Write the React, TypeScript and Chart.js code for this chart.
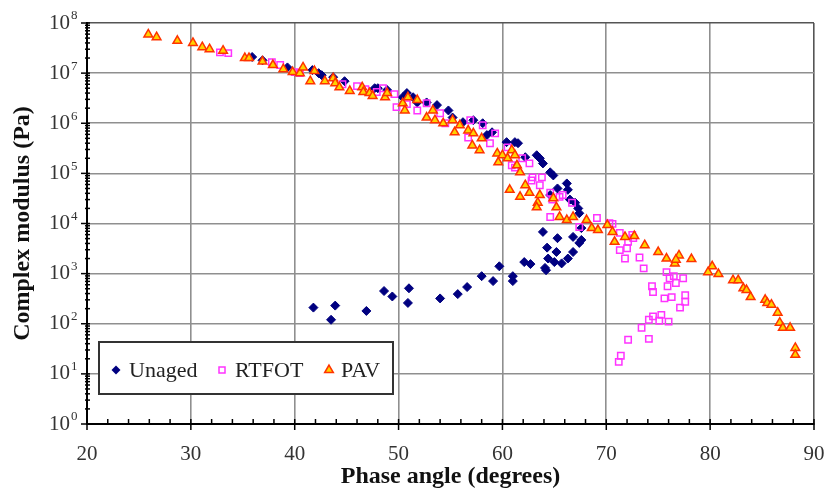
import React, { useEffect, useRef } from 'react';
import { Chart, registerables } from 'chart.js';

Chart.register(...registerables);

// ---- Data (phase angle in degrees, complex modulus in Pa) ----
const unagedPhase = [
  35.9, 36.9, 39.3, 41.7, 42.3, 42.6, 43.7, 44.8, 47.7, 48.0, 48.9, 50.4, 50.8, 51.4, 51.8, 52.7,
  53.7, 54.8, 55.2, 56.2, 57.2, 58.1, 58.5, 59.0, 60.4, 61.2, 61.5, 62.2, 63.3, 63.6, 63.9, 64.6,
  64.9, 65.3, 66.2, 66.3, 64.6, 66.5, 67.0, 67.3, 67.4, 67.6, 67.6, 67.4, 66.8, 63.9, 64.3, 65.2,
  65.3, 64.4, 66.3, 65.7, 65.0, 64.1, 64.2, 62.1, 62.7, 66.8, 54.0, 55.7, 56.6, 58.0, 59.1, 59.7,
  61.0, 61.0, 41.8, 43.5, 43.9, 46.9, 48.6, 49.4, 51.0, 50.9,
];
const unagedModulus = [
  2.1e7, 1.8e7, 1.3e7, 1.15e7, 1.0e7, 9.1e6, 8.3e6, 6.9e6, 5.0e6, 5.0e6, 4.6e6, 3.3e6, 4.0e6, 3.3e6, 2.6e6, 2.6e6,
  2.3e6, 1.8e6, 1.3e6, 1.05e6, 1.15e6, 1.0e6, 5.8e5, 6.6e5, 4.2e5, 4.2e5, 4.0e5, 2.1e5, 2.3e5, 2.0e5, 1.58e5, 1.05e5,
  9.1e4, 5.0e4, 6.3e4, 4.7e4, 3.7e4, 3.0e4, 2.6e4, 2.0e4, 1.6e4, 8.1e3, 4.7e3, 4.1e3, 5.4e3, 6.8e3, 3.3e3, 2.7e3,
  5.1e3, 2.0e3, 2.0e3, 1.6e3, 1.7e3, 1.3e3, 1.17e3, 1.7e3, 1.55e3, 2.7e3, 3.2e2, 3.9e2, 5.4e2, 8.9e2, 7.1e2, 1.4e3,
  8.9e2, 7.1e2, 2.1e2, 1.2e2, 2.3e2, 1.8e2, 4.5e2, 3.5e2, 5.1e2, 2.6e2,
];

const rtfotPhase = [
  32.8, 33.6, 37.8, 38.6, 40.0, 40.5, 44.6, 46.0, 46.8, 47.9, 48.5, 49.6, 49.8, 50.8, 51.8, 52.7,
  54.0, 54.5, 56.9, 58.1, 56.7, 58.8, 59.3, 60.5, 60.9, 61.2, 61.9, 62.6, 62.8, 63.6, 64.6, 65.5,
  62.9, 63.8, 64.8, 65.8, 66.7, 64.6, 67.4, 69.1, 70.3, 70.6, 71.3, 72.5, 72.1, 72.6, 71.3, 72.0,
  71.8, 73.2, 73.6, 75.8, 76.1, 76.5, 77.4, 75.9, 76.7, 74.4, 74.5, 75.6, 76.3, 77.6, 77.6, 77.1,
  75.3, 74.5, 74.1, 75.1, 76.0, 73.4, 72.1, 74.1, 71.4, 71.2,
];
const rtfotModulus = [
  2.6e7, 2.5e7, 1.66e7, 1.45e7, 1.05e7, 1.0e7, 6.0e6, 5.5e6, 4.8e6, 4.2e6, 5.0e6, 3.8e6, 2.1e6, 2.4e6, 1.8e6, 2.5e6,
  1.58e6, 1.0e6, 1.15e6, 9.1e5, 5.2e5, 4.0e5, 6.3e5, 3.3e5, 1.45e5, 1.3e5, 2.0e5, 1.58e5, 7.2e4, 5.8e4, 4.1e4, 3.4e4,
  8.3e4, 8.3e4, 3.0e4, 3.7e4, 2.6e4, 1.35e4, 8.5e3, 1.29e4, 1.02e4, 9.8e3, 6.5e3, 5.9e3, 4.3e3, 5.1e3, 2.95e3, 3.2e3,
  2.0e3, 2.1e3, 1.27e3, 1.07e3, 8.1e2, 8.9e2, 8.1e2, 5.6e2, 6.5e2, 5.6e2, 4.3e2, 3.2e2, 3.4e2, 3.7e2, 2.75e2, 2.1e2,
  1.5e2, 1.4e2, 1.2e2, 1.15e2, 1.1e2, 8.3e1, 4.8e1, 5.0e1, 2.3e1, 1.74e1,
];

const pavPhase = [
  25.9, 26.7, 28.7, 30.2, 31.1, 31.8, 33.1, 35.2, 35.6, 36.9, 37.9, 38.9, 39.8, 40.5, 40.8, 41.5,
  41.9, 42.9, 43.7, 43.9, 44.3, 45.3, 46.5, 46.6, 47.2, 47.5, 48.7, 48.9, 50.4, 50.6, 50.9, 51.8,
  52.7, 53.3, 53.5, 54.3, 55.2, 55.4, 55.9, 56.7, 57.2, 57.1, 57.8, 58.0, 59.5, 59.6, 60.0, 60.5,
  60.9, 61.2, 61.4, 61.7, 60.7, 61.7, 62.2, 62.6, 63.4, 63.6, 64.9, 65.2, 63.3, 65.5, 66.2, 66.8,
  68.1, 68.6, 69.2, 70.1, 70.6, 70.8, 71.8, 72.7, 73.7, 75.0, 75.8, 76.6, 77.0, 76.7, 78.2, 80.2,
  79.8, 80.8, 82.2, 82.7, 83.2, 83.5, 83.9, 85.3, 85.5, 85.9, 86.5, 86.7, 87.0, 87.7, 88.2, 88.2,
];
const pavModulus = [
  5.9e7, 5.2e7, 4.4e7, 4.0e7, 3.3e7, 3.0e7, 2.8e7, 2.0e7, 2.0e7, 1.7e7, 1.45e7, 1.2e7, 1.05e7, 1.0e7, 1.3e7, 6.9e6,
  1.1e7, 6.9e6, 7.9e6, 6.3e6, 5.2e6, 4.4e6, 5.2e6, 4.2e6, 4.0e6, 3.5e6, 3.3e6, 4.0e6, 2.5e6, 1.8e6, 3.3e6, 2.9e6,
  1.3e6, 1.8e6, 1.15e6, 1.0e6, 1.15e6, 6.6e5, 9.1e5, 7.2e5, 6.3e5, 3.6e5, 2.9e5, 5.0e5, 2.5e5, 1.66e5, 2.3e5, 2.0e5,
  2.9e5, 2.3e5, 1.45e5, 1.05e5, 4.7e4, 3.4e4, 5.8e4, 4.1e4, 2.6e4, 3.7e4, 3.2e4, 2.1e4, 2.1e4, 1.35e4, 1.17e4, 1.35e4,
  1.17e4, 8.1e3, 7.4e3, 9.3e3, 6.8e3, 4.3e3, 5.4e3, 5.6e3, 3.7e3, 2.7e3, 2.0e3, 1.6e3, 2.3e3, 1.9e3, 1.95e3, 1.4e3,
  1.07e3, 9.8e2, 7.4e2, 7.4e2, 5.1e2, 4.7e2, 3.4e2, 3.0e2, 2.6e2, 2.4e2, 1.66e2, 1.05e2, 8.3e1, 8.3e1, 3.3e1, 2.4e1,
];

const seriesNames = ['Unaged', 'RTFOT', 'PAV'];
const xTickValues = [20, 30, 40, 50, 60, 70, 80, 90];
const yDecadeValues = [1, 10, 100, 1e3, 1e4, 1e5, 1e6, 1e7, 1e8];
const yExponentLabels = ['0', '1', '2', '3', '4', '5', '6', '7', '8'];

const SERIF = '"Liberation Serif", "Times New Roman", serif';

const NAVY = '#000080';
const MAGENTA = '#FF33FF';
const PAV_FILL = '#FFD200';
const PAV_EDGE = '#FF3300';

function drawMarker(ctx: CanvasRenderingContext2D, kind: number, x: number, y: number) {
  ctx.save();
  ctx.beginPath();
  if (kind === 0) {
    const r = 4.5;
    ctx.moveTo(x, y - r);
    ctx.lineTo(x + r, y);
    ctx.lineTo(x, y + r);
    ctx.lineTo(x - r, y);
    ctx.closePath();
    ctx.fillStyle = NAVY;
    ctx.fill();
  } else if (kind === 1) {
    const s = 3;
    ctx.rect(x - s, y - s, 2 * s, 2 * s);
    ctx.strokeStyle = MAGENTA;
    ctx.lineWidth = 1.5;
    ctx.stroke();
  } else {
    const r = 5;
    ctx.moveTo(x, y - r);
    ctx.lineTo(x + r * 0.866, y + r * 0.5);
    ctx.lineTo(x - r * 0.866, y + r * 0.5);
    ctx.closePath();
    ctx.fillStyle = PAV_FILL;
    ctx.fill();
    ctx.strokeStyle = PAV_EDGE;
    ctx.lineWidth = 1.5;
    ctx.stroke();
  }
  ctx.restore();
}

const decorPlugin = {
  id: 'decor',
  afterDraw(chart: any) {
    const ctx: CanvasRenderingContext2D = chart.ctx;
    const xs = chart.scales.x;
    const ys = chart.scales.y;
    const area = chart.chartArea;
    ctx.save();
    // y minor & major ticks
    ctx.strokeStyle = '#000';
    ctx.lineWidth = 1.5;
    for (let d = 0; d < 8; d++) {
      for (let m = 2; m <= 9; m++) {
        const py = ys.getPixelForValue(m * Math.pow(10, d));
        ctx.beginPath();
        ctx.moveTo(area.left - 2, py);
        ctx.lineTo(area.left + 3, py);
        ctx.stroke();
      }
    }
    yDecadeValues.forEach((v) => {
      const py = ys.getPixelForValue(v);
      ctx.beginPath();
      ctx.moveTo(area.left - 6, py);
      ctx.lineTo(area.left + 3, py);
      ctx.stroke();
    });
    // x minor & major ticks
    for (let v = 22; v < 90; v += 2) {
      if (v % 10 === 0) continue;
      const px = xs.getPixelForValue(v);
      ctx.beginPath();
      ctx.moveTo(px, area.bottom - 5);
      ctx.lineTo(px, area.bottom);
      ctx.stroke();
    }
    xTickValues.forEach((v) => {
      const px = xs.getPixelForValue(v);
      ctx.beginPath();
      ctx.moveTo(px, area.bottom - 5);
      ctx.lineTo(px, area.bottom + 6);
      ctx.stroke();
    });
    // y tick labels 10^n
    ctx.fillStyle = '#333';
    yDecadeValues.forEach((v, i) => {
      const py = ys.getPixelForValue(v);
      ctx.font = `21px ${SERIF}`;
      ctx.textAlign = 'right';
      ctx.textBaseline = 'middle';
      ctx.fillText('10', 70, py);
      ctx.font = `13px ${SERIF}`;
      ctx.textAlign = 'left';
      ctx.fillText(yExponentLabels[i], 71, py - 7);
    });
    // legend box
    const bx = 99, by = 342, bw = 294, bh = 52;
    ctx.fillStyle = '#fff';
    ctx.fillRect(bx, by, bw, bh);
    ctx.strokeStyle = '#333';
    ctx.lineWidth = 2;
    ctx.strokeRect(bx, by, bw, bh);
    const markerX = [116, 222, 329];
    const textX = [129, 235, 341];
    ctx.font = `22px ${SERIF}`;
    ctx.textAlign = 'left';
    ctx.textBaseline = 'alphabetic';
    seriesNames.forEach((name, i) => {
      drawMarker(ctx, i, markerX[i], 370);
      ctx.fillStyle = '#222';
      ctx.fillText(name, textX[i], 377);
    });
    ctx.restore();
  },
};

function toPoints(xs: number[], ys: number[]) {
  return xs.map((x, i) => ({ x, y: ys[i] }));
}

export default function App() {
  const canvasRef = useRef<HTMLCanvasElement>(null);

  useEffect(() => {
    if (!canvasRef.current) return;
    const gridColor = (ctx: any, edge: number) =>
      ctx.tick && ctx.tick.value === edge ? '#555' : '#8f8f8f';
    const chart = new Chart(canvasRef.current, {
      type: 'scatter',
      data: {
        datasets: [
          {
            label: seriesNames[0],
            data: toPoints(unagedPhase, unagedModulus),
            pointStyle: 'rectRot',
            pointRadius: 4.5,
            backgroundColor: NAVY,
            borderColor: NAVY,
            borderWidth: 1,
            order: 3,
          },
          {
            label: seriesNames[1],
            data: toPoints(rtfotPhase, rtfotModulus),
            pointStyle: 'rect',
            pointRadius: 4.5,
            backgroundColor: 'rgba(255,255,255,0)',
            borderColor: MAGENTA,
            borderWidth: 1.5,
            order: 2,
          },
          {
            label: seriesNames[2],
            data: toPoints(pavPhase, pavModulus),
            pointStyle: 'triangle',
            pointRadius: 5,
            backgroundColor: PAV_FILL,
            borderColor: PAV_EDGE,
            borderWidth: 1.5,
            order: 1,
          },
        ],
      },
      options: {
        responsive: false,
        animation: false,
        devicePixelRatio: 1,
        layout: { padding: { left: 0, right: 10, top: 23, bottom: 0 } },
        plugins: { legend: { display: false }, tooltip: { enabled: false } },
        scales: {
          x: {
            type: 'linear',
            min: 20,
            max: 90,
            afterBuildTicks: (s: any) => {
              s.ticks = xTickValues.map((v) => ({ value: v }));
            },
            afterFit: (s: any) => {
              s.height = 67;
              s.paddingLeft = 0;
              s.paddingRight = 0;
            },
            grid: { color: (c: any) => gridColor(c, 90), lineWidth: 1.6, drawTicks: false },
            border: { display: true, color: '#000', width: 2 },
            ticks: { font: { family: SERIF, size: 21 }, color: '#333', padding: 18 },
            title: {
              display: true,
              text: 'Phase angle (degrees)',
              color: '#111',
              font: { family: SERIF, size: 24, weight: 'bold' },
              padding: { top: 0, bottom: 0 },
            },
          },
          y: {
            type: 'logarithmic',
            min: 1,
            max: 1e8,
            afterBuildTicks: (s: any) => {
              s.ticks = yDecadeValues.map((v) => ({ value: v }));
            },
            afterFit: (s: any) => {
              s.width = 87;
              s.paddingTop = 0;
              s.paddingBottom = 0;
            },
            grid: { color: (c: any) => gridColor(c, 1e8), lineWidth: 1.6, drawTicks: false },
            border: { display: true, color: '#000', width: 2 },
            ticks: { display: false },
            title: {
              display: true,
              text: 'Complex modulus (Pa)',
              color: '#111',
              font: { family: SERIF, size: 24, weight: 'bold' },
              padding: { top: 8, bottom: 0 },
            },
          },
        },
      } as any,
      plugins: [decorPlugin],
    });
    return () => chart.destroy();
  }, []);

  return (
    <div style={{ position: 'absolute', left: 0, top: 0, width: 824, height: 491, background: '#fff' }}>
      <canvas ref={canvasRef} width={824} height={491} style={{ width: 824, height: 491 }} />
    </div>
  );
}
